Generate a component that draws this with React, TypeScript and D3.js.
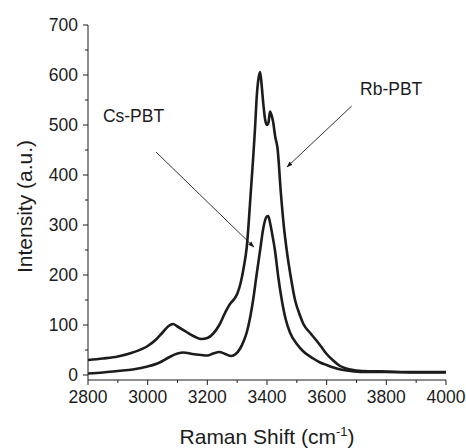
import React from "react";
import * as d3 from "d3";

const rbShift = [2800,2850,2900,2950,3000,3030,3050,3070,3085,3100,3130,3160,3180,3200,3220,3240,3260,3276,3290,3300,3312,3322,3332,3345,3360,3366,3372,3377,3382,3388,3394,3400,3405,3410,3415,3420,3428,3435,3447,3456,3466,3480,3494,3510,3522,3545,3567,3580,3600,3620,3645,3680,3720,3800,3900,4000];
const rbIntensity = [30,33,37,45,58,72,85,98,102,97,86,76,72,74,83,100,125,142,152,162,185,215,255,360,495,560,595,606,580,540,510,500,505,527,520,508,475,455,360,300,250,195,150,120,102,84,68,58,42,30,18,11,8,7,6,6];

const csShift = [2800,2850,2900,2950,3000,3040,3070,3100,3120,3150,3180,3200,3220,3240,3260,3280,3295,3310,3322,3332,3345,3354,3365,3377,3388,3398,3404,3410,3418,3427,3438,3449,3462,3477,3500,3522,3555,3578,3600,3640,3680,3720,3800,3900,4000];
const csIntensity = [3,5,8,11,17,25,35,43,45,42,40,39,43,46,42,38,42,53,68,85,120,152,200,250,295,316,318,305,280,248,195,152,113,85,62,47,33,25,20,12,8,6,6,5,5];

const xTicks = [2800,3000,3200,3400,3600,3800,4000];
const xMinor = [2900,3100,3300,3500,3700,3900];
const yTicks = [0,100,200,300,400,500,600,700];
const yMinor = [50,150,250,350,450,550,650];

const labels = [
  { name: "Rb-PBT", tx: 3712, ty: 561, x1: 3684, y1: 538, x2: 3467, y2: 416 },
  { name: "Cs-PBT", tx: 2850, ty: 506, x1: 3028, y1: 446, x2: 3356, y2: 256 },
];

const W = 466, H = 448;
const x = d3.scaleLinear().domain([2800, 4000]).range([88, 446]);
const y = d3.scaleLinear().domain([-10, 700]).range([380, 25]);
const FONT = "'Liberation Sans', Arial, sans-serif";
const INK = "#1c1c1c";

export default function App() {
  const line = d3.line<[number, number]>().x(d => x(d[0])).y(d => y(d[1])).curve(d3.curveMonotoneX);
  const rb = line(rbShift.map((s, i) => [s, rbIntensity[i]]));
  const cs = line(csShift.map((s, i) => [s, csIntensity[i]]));
  const y0 = y.range()[0];
  const xL = x.range()[0];
  return (
    <svg width={W} height={H} style={{ position: "absolute", left: 0, top: 0, background: "#fff" }}>
      <defs>
        <marker id="ah" viewBox="0 0 10 10" refX="9" refY="5" markerWidth="7" markerHeight="7" orient="auto">
          <path d="M0,1.5 L10,5 L0,8.5 z" fill={INK} />
        </marker>
      </defs>
      <path d={rb || ""} fill="none" stroke={INK} strokeWidth={2.6} strokeLinejoin="round" />
      <path d={cs || ""} fill="none" stroke={INK} strokeWidth={2.6} strokeLinejoin="round" />
      {/* axes */}
      <line x1={xL} x2={xL} y1={y0} y2={y(700)} stroke={INK} strokeWidth={1} />
      <line x1={xL} x2={x(4000)} y1={y0} y2={y0} stroke={INK} strokeWidth={1} />
      {yTicks.map(t => (
        <g key={"y" + t}>
          <line x1={xL - 5} x2={xL} y1={y(t)} y2={y(t)} stroke={INK} />
          <text x={xL - 10} y={y(t)} dy="0.36em" textAnchor="end" fontFamily={FONT} fontSize={17.5} fill={INK}>{t}</text>
        </g>
      ))}
      {yMinor.map(t => (
        <line key={"ym" + t} x1={xL - 3} x2={xL} y1={y(t)} y2={y(t)} stroke={INK} />
      ))}
      {xTicks.map(t => (
        <g key={"x" + t}>
          <line x1={x(t)} x2={x(t)} y1={y0} y2={y0 + 5} stroke={INK} />
          <text x={x(t)} y={y0 + 23} textAnchor="middle" fontFamily={FONT} fontSize={17.5} fill={INK}>{t}</text>
        </g>
      ))}
      {xMinor.map(t => (
        <line key={"xm" + t} x1={x(t)} x2={x(t)} y1={y0} y2={y0 + 3} stroke={INK} />
      ))}
      <text x={(x(2800) + x(4000)) / 2} y={444} textAnchor="middle" fontFamily={FONT} fontSize={21} fill={INK}>
        Raman Shift (cm<tspan dy={-8} fontSize={13}>-1</tspan><tspan dy={8}>)</tspan>
      </text>
      <text transform={`translate(32,${(y(-10) + y(700)) / 2 + 4}) rotate(-90)`} textAnchor="middle" fontFamily={FONT} fontSize={21} fill={INK}>
        Intensity (a.u.)
      </text>
      {labels.map(l => (
        <g key={l.name}>
          <text x={x(l.tx)} y={y(l.ty)} fontFamily={FONT} fontSize={17.5} fill={INK}>{l.name}</text>
          <line x1={x(l.x1)} y1={y(l.y1)} x2={x(l.x2)} y2={y(l.y2)} stroke={INK} strokeWidth={0.9} markerEnd="url(#ah)" />
        </g>
      ))}
    </svg>
  );
}
